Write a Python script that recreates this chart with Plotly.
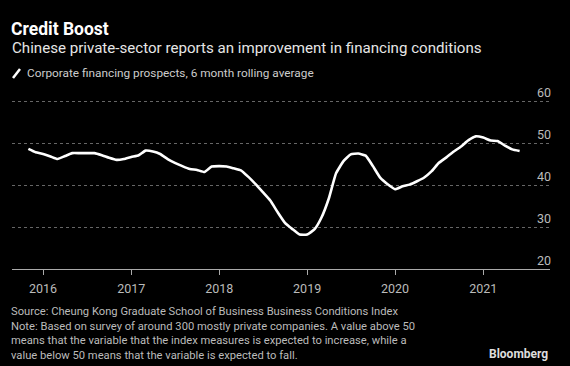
import plotly.graph_objects as go
import pandas as pd

dates = pd.date_range("2015-11-01", "2021-06-01", freq="MS")
values = [
    48.6, 47.8,
    47.4, 46.8, 46.2, 46.9, 47.6, 47.6, 47.6, 47.6, 47.1, 46.5, 46.0, 46.2,
    46.7, 47.1, 48.2, 48.0, 47.4, 46.2, 45.3, 44.5, 43.8, 43.6, 43.1, 44.4,
    44.5, 44.4, 44.0, 43.5, 42.0, 40.2, 38.3, 36.3, 33.5, 31.0, 29.5, 28.2,
    28.2, 29.5, 32.2, 36.8, 42.8, 45.7, 47.3, 47.5, 47.0, 44.5, 41.7, 40.2,
    39.0, 39.7, 40.1, 40.9, 41.8, 43.3, 45.3, 46.6, 48.0, 49.2, 50.7, 51.6,
    51.3, 50.6, 50.5, 49.4, 48.5, 48.1,
]
y_ticks = [20, 30, 40, 50, 60]
x_range = ["2015-08-25", "2021-10-05"]
y_range = [20, 65.5]

FONT = "Roboto"
W, H = 570, 366
L, R, T, B = 12, 20, 78, 97
PW, PH = W - L - R, H - T - B


def px(x):
    return (x - L) / PW


def py(y):
    return (H - B - y) / PH


fig = go.Figure()
fig.add_trace(go.Scatter(
    x=dates, y=values, mode="lines",
    line=dict(color="white", width=2.6, shape="spline", smoothing=0.4),
    hoverinfo="skip", showlegend=False,
))

fig.update_layout(
    width=W, height=H,
    margin=dict(l=L, r=R, t=T, b=B),
    paper_bgcolor="black", plot_bgcolor="black",
    font=dict(family=FONT, color="#bbbbbb", size=12),
    xaxis=dict(
        range=x_range, type="date", dtick="M12", tick0="2016-01-01",
        tickformat="%Y", showgrid=False, zeroline=False,
        showline=True, linecolor="#aaaaaa", linewidth=1,
        ticks="outside", ticklen=5, tickcolor="#aaaaaa",
        ticklabelstandoff=3,
        tickfont=dict(size=12.5, color="#bbbbbb", family=FONT),
    ),
    yaxis=dict(
        range=y_range, tickvals=y_ticks, side="right",
        ticklabelposition="inside top", ticklabelstandoff=-4,
        showgrid=True, gridcolor="#666666", griddash="dot", gridwidth=1,
        zeroline=False, showline=False, ticks="",
        tickfont=dict(size=12.5, color="#bbbbbb", family=FONT),
    ),
)

fig.add_annotation(text="<b>Credit Boost</b>", xref="paper", yref="paper",
                   x=px(9), y=py(29), xanchor="left", yanchor="middle",
                   showarrow=False, font=dict(size=17.5, color="white", family=FONT))
fig.add_annotation(text="Chinese private-sector reports an improvement in financing conditions",
                   xref="paper", yref="paper",
                   x=px(10), y=py(48), xanchor="left", yanchor="middle",
                   showarrow=False, font=dict(size=15.1, color="#e6e6e6", family=FONT))
fig.add_annotation(text="Corporate financing prospects, 6 month rolling average",
                   xref="paper", yref="paper",
                   x=px(25), y=py(73), xanchor="left", yanchor="middle",
                   showarrow=False, font=dict(size=11.8, color="#cccccc", family=FONT))
fig.add_shape(type="line", xref="paper", yref="paper",
              x0=px(13), y0=py(78), x1=px(20), y1=py(69),
              line=dict(color="white", width=2.5))

footer = ("Source: Cheung Kong Graduate School of Business Business Conditions Index<br>"
          "Note: Based on survey of around 300 mostly private companies. A value above 50<br>"
          "means that the variable that the index measures is expected to increase, while a<br>"
          "value below 50 means that the variable is expected to fall.")
fig.add_annotation(text=footer, xref="paper", yref="paper",
                   x=px(9), y=py(303), xanchor="left", yanchor="top", align="left",
                   showarrow=False, font=dict(size=11.2, color="#bbbbbb", family=FONT))
fig.add_annotation(text="<b>Bloomberg</b>", xref="paper", yref="paper",
                   x=px(550), y=py(354), xanchor="right", yanchor="middle",
                   showarrow=False, font=dict(size=12, color="#dddddd", family=FONT))

fig.write_html("out.html", config={"displayModeBar": False},
               post_script="document.body.style.margin='0';document.body.style.background='black';")
